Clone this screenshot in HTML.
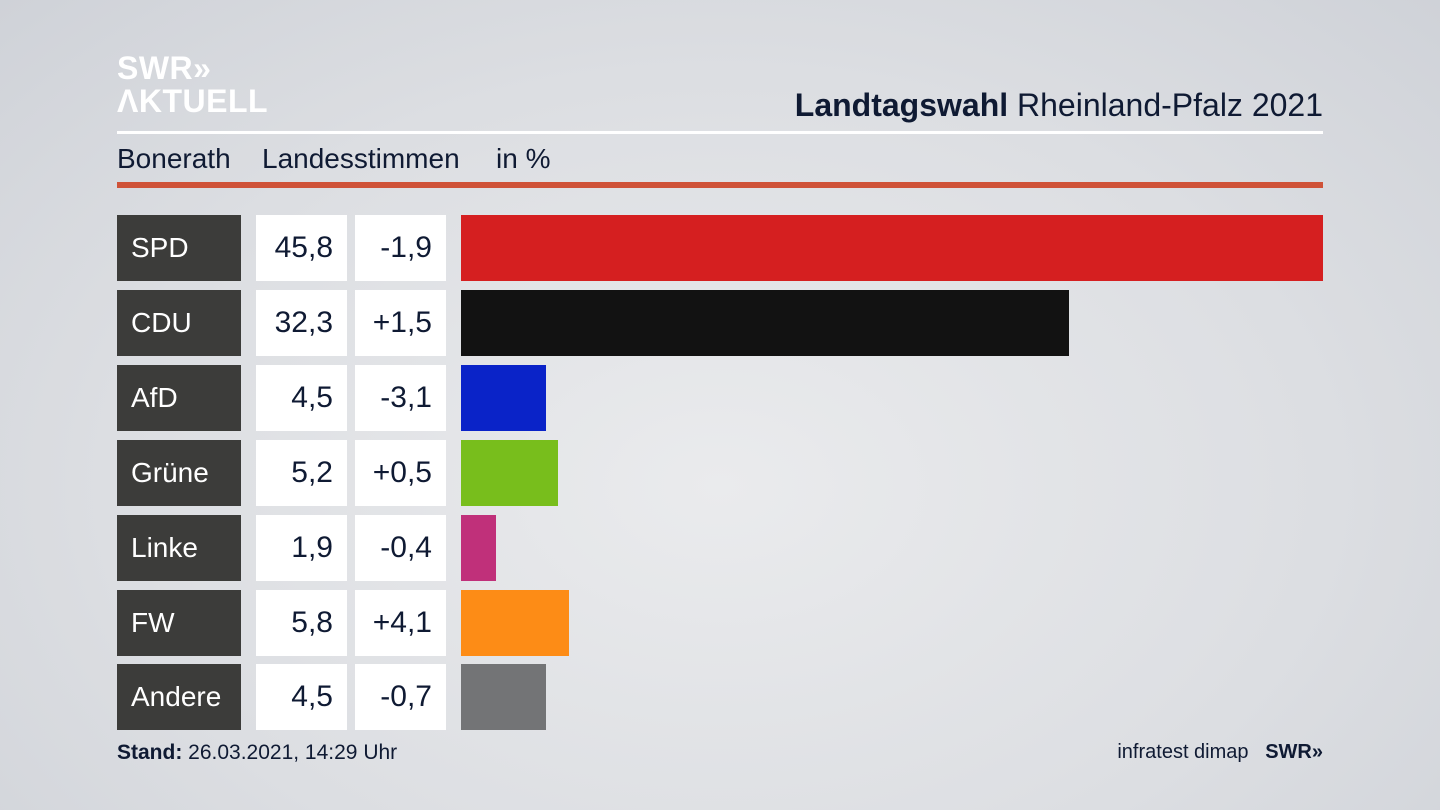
<!DOCTYPE html>
<html><head><meta charset="utf-8"><style>
body{margin:0;width:1440px;height:810px;overflow:hidden;font-family:"Liberation Sans",sans-serif;
background:radial-gradient(ellipse at 50% 60%,#eaebed 0%,#dcdee2 60%,#cfd2d8 100%);position:relative;color:#0f1a33}
.a{position:absolute}
.lab{position:absolute;left:117px;width:124px;height:66px;background:#3c3c3a;color:#fff;font-size:28px;line-height:66px;box-sizing:border-box;padding-left:14px}
.v{position:absolute;width:91px;height:66px;background:#fff;font-size:30px;line-height:66px;text-align:right;box-sizing:border-box;padding-right:14px}
.bar{position:absolute;left:461px;height:66px}
</style></head><body>
<div class="a" style="left:117px;top:52px;color:#fff;font-weight:bold;font-size:32px;line-height:33px;letter-spacing:0.5px">SWR&#187;<br>ΛKTUELL</div>
<div class="a" style="right:117px;top:87px;font-size:32px"><b>Landtagswahl</b> Rheinland-Pfalz 2021</div>
<div class="a" style="left:117px;top:131px;width:1206px;height:3px;background:#fff"></div>
<div class="a" style="left:117px;top:143px;font-size:28px">Bonerath</div>
<div class="a" style="left:262px;top:143px;font-size:28px">Landesstimmen</div>
<div class="a" style="left:496px;top:143px;font-size:28px">in %</div>
<div class="a" style="left:117px;top:182px;width:1206px;height:6px;background:#cf5238"></div>

<div class="lab" style="top:215px">SPD</div><div class="v" style="left:256px;top:215px">45,8</div><div class="v" style="left:355px;top:215px">-1,9</div><div class="bar" style="top:215px;width:862px;background:#d51f20"></div>
<div class="lab" style="top:290px">CDU</div><div class="v" style="left:256px;top:290px">32,3</div><div class="v" style="left:355px;top:290px">+1,5</div><div class="bar" style="top:290px;width:608px;background:#121212"></div>
<div class="lab" style="top:365px">AfD</div><div class="v" style="left:256px;top:365px">4,5</div><div class="v" style="left:355px;top:365px">-3,1</div><div class="bar" style="top:365px;width:85px;background:#0a23c8"></div>
<div class="lab" style="top:440px">Grüne</div><div class="v" style="left:256px;top:440px">5,2</div><div class="v" style="left:355px;top:440px">+0,5</div><div class="bar" style="top:440px;width:97px;background:#78be1c"></div>
<div class="lab" style="top:515px">Linke</div><div class="v" style="left:256px;top:515px">1,9</div><div class="v" style="left:355px;top:515px">-0,4</div><div class="bar" style="top:515px;width:35px;background:#c0307a"></div>
<div class="lab" style="top:590px">FW</div><div class="v" style="left:256px;top:590px">5,8</div><div class="v" style="left:355px;top:590px">+4,1</div><div class="bar" style="top:590px;width:108px;background:#fd8c16"></div>
<div class="lab" style="top:664px">Andere</div><div class="v" style="left:256px;top:664px">4,5</div><div class="v" style="left:355px;top:664px">-0,7</div><div class="bar" style="top:664px;width:85px;background:#737476"></div>

<div class="a" style="left:117px;top:741px;font-size:21px"><b>Stand:</b> 26.03.2021, 14:29 Uhr</div>
<div class="a" style="right:117px;top:741px;font-size:20px">infratest dimap&nbsp;&nbsp; <b>SWR&#187;</b></div>
</body></html>
